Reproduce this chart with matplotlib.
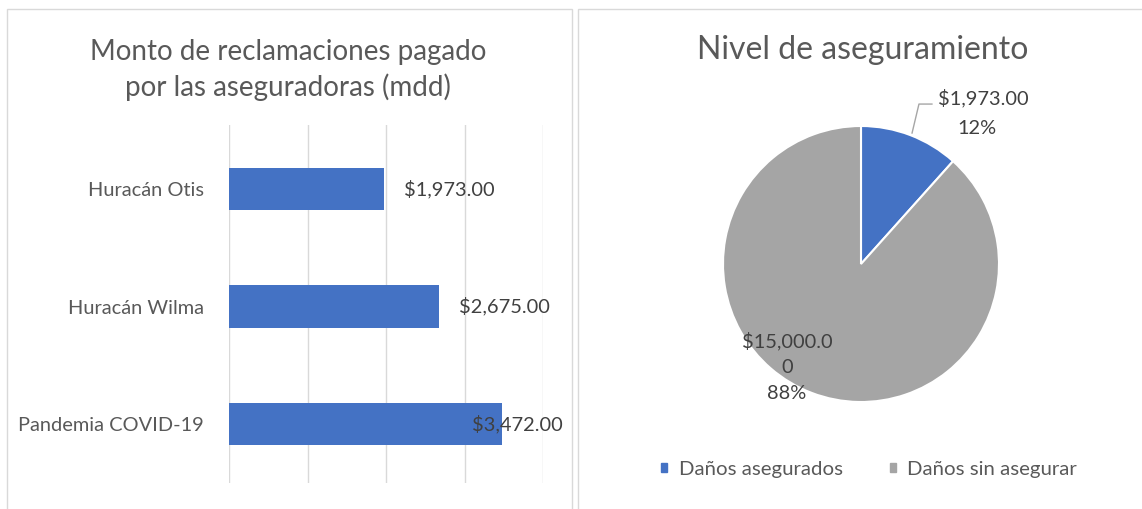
import matplotlib
matplotlib.use("Agg")
import matplotlib.pyplot as plt
from matplotlib.patches import Rectangle, Patch
from matplotlib.lines import Line2D

# datos del grafico de barras
categorias = ["Huracán Otis", "Huracán Wilma", "Pandemia COVID-19"]
reclamaciones = [1973, 2675, 3472]

# datos del grafico de pastel
segmentos = ["Daños asegurados", "Daños sin asegurar"]
montos = [1973, 15000]

azul = "#4472C4"
gris = "#A5A5A5"
texto = "#595959"
rejilla = "#D9D9D9"

plt.rcParams["font.family"] = ["Lato", "DejaVu Sans"]

W, H = 1142, 509
fig = plt.figure(figsize=(W / 100, H / 100), dpi=100)


def fx(px):
    return px / W


def fy(py):
    return 1 - py / H


# marcos de los dos graficos
fig.patches.append(Rectangle((fx(7), fy(515)), fx(565), fy(9) - fy(515),
                             transform=fig.transFigure, fill=False,
                             edgecolor=rejilla, lw=1))
fig.patches.append(Rectangle((fx(578), fy(515)), fx(570), fy(9) - fy(515),
                             transform=fig.transFigure, fill=False,
                             edgecolor=rejilla, lw=1))

# ---- barras ----
ax = fig.add_axes([fx(229), fy(483), fx(543) - fx(229), fy(125) - fy(483)])
y = list(range(len(categorias)))[::-1]
ax.barh(y, reclamaciones, height=0.36, color=azul, zorder=3)
ax.set_xlim(0, 4000)
ax.set_ylim(-0.5, len(categorias) - 0.457)
ax.set_xticks([0, 1000, 2000, 3000, 4000])
ax.set_xticklabels([])
ax.tick_params(axis="x", length=0)
ax.tick_params(axis="y", length=0, pad=18, labelsize=14.4, labelcolor=texto)
ax.set_yticks(y)
ax.set_yticklabels(categorias)
ax.grid(axis="x", color=rejilla, lw=1, zorder=0)
for s in ax.spines.values():
    s.set_visible(False)

# etiquetas de datos (Excel empuja la ultima hacia dentro)
lim = 3090
for yi, v in zip(y, reclamaciones):
    ax.text(min(v + 250, lim), yi, f"${v:,.2f}", va="center", ha="left",
            fontsize=14.4, color="#404040", zorder=4)

fig.text(fx(288), fy(70), "Monto de reclamaciones pagado\npor las aseguradoras (mdd)",
         ha="center", va="center", fontsize=20, color=texto, linespacing=1.35)

# ---- pastel ----
r = 138
pa = fig.add_axes([fx(861 - r), fy(264 + r), fx(2 * r), fy(264 - r) - fy(264 + r)])
pa.pie(montos, colors=[azul, gris], startangle=90, counterclock=False,
       wedgeprops=dict(edgecolor="white", linewidth=1.5))
pa.set_xlim(-1, 1)
pa.set_ylim(-1, 1)
pa.axis("off")

total = sum(montos)
pct = [round(100 * m / total) for m in montos]

lbl0 = f"${montos[0]:,.2f}"
pa.text(0.884, 1.203, lbl0, ha="center", va="center", fontsize=14.4,
        color="#404040", clip_on=False)
pa.text(0.84, 0.985, f"{pct[0]}%", ha="center", va="center", fontsize=14.4,
        color="#404040", clip_on=False)
pa.add_line(Line2D([0.37, 0.42, 0.514], [0.949, 1.159, 1.159], color="#A6A6A6",
                   lw=1, clip_on=False))

lbl1 = f"${montos[1]:,.2f}"
pa.text(-0.536, -0.746, lbl1[:-1] + "\n" + lbl1[-1] + "\n" + f"{pct[1]}%",
        ha="center", va="center", fontsize=14.4, color="#404040",
        linespacing=1.6)

fig.text(fx(863), fy(50), "Nivel de aseguramiento", ha="center", va="center",
         fontsize=23, color=texto)

handles = [Patch(color=c, label=l) for c, l in zip([azul, gris], segmentos)]
fig.legend(handles=handles, loc="center", bbox_to_anchor=(fx(869), fy(469)),
           ncol=2, frameon=False, fontsize=14.7, labelcolor=texto,
           handlelength=0.32, handleheight=0.32, handletextpad=0.55,
           columnspacing=2.3)

fig.savefig("out.png", dpi=100)
